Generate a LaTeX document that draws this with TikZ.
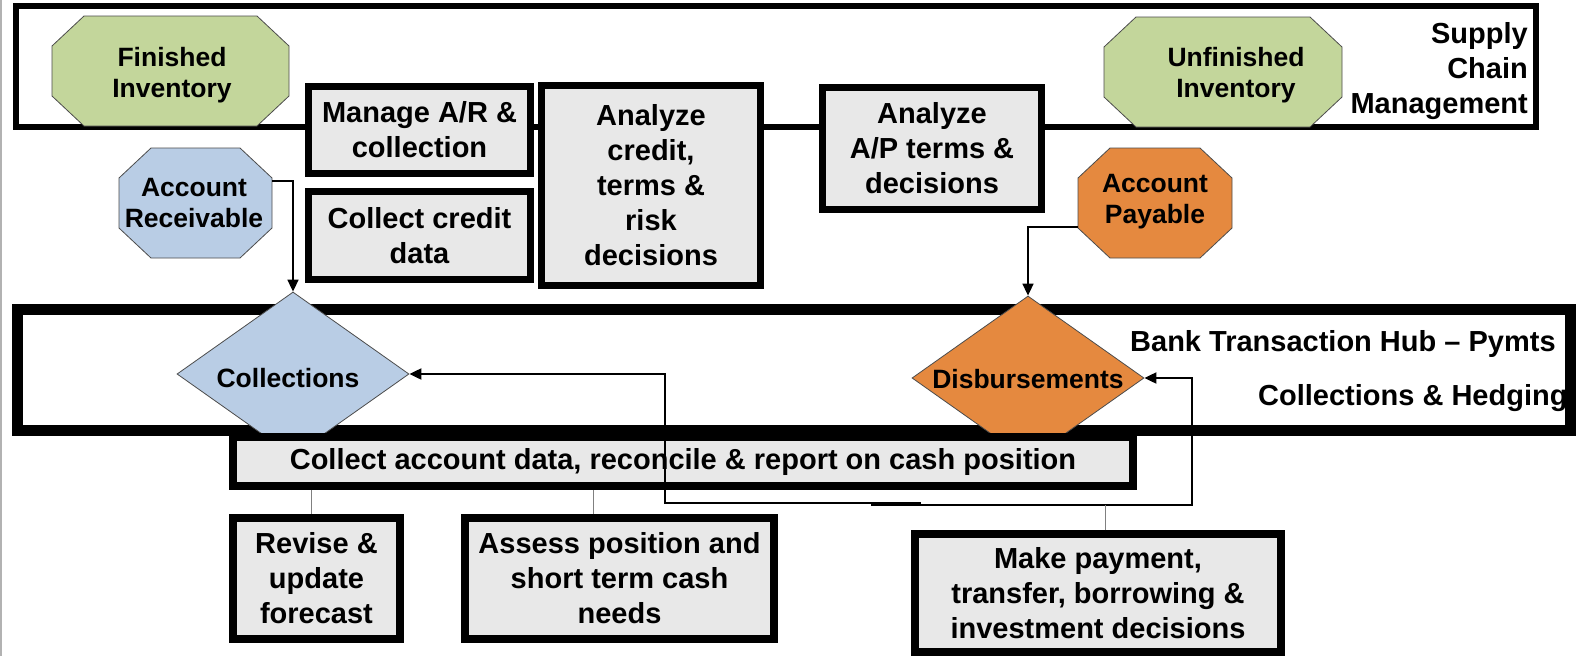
\documentclass[tikz,border=0pt]{standalone}
\usepackage{fontspec}
\setmainfont{Liberation Sans}
\usetikzlibrary{shapes.geometric,arrows.meta,calc}
\definecolor{grn}{HTML}{C3D69B}
\definecolor{blu}{HTML}{B9CDE5}
\definecolor{org}{HTML}{E5893F}
\definecolor{boxg}{HTML}{E8E8E8}
\newcommand{\boxfont}{\fontsize{29}{35}\selectfont\bfseries}
\newcommand{\shpfont}{\fontsize{26.5}{31}\selectfont\bfseries}
% octagon drawn on the frame of a named (invisible) rectangle node
\newcommand{\octshape}[2]{%
  \filldraw[fill=#2, draw=black!70, line width=0.8pt]
    ([xshift=32pt]#1.north west) -- ([xshift=-32pt]#1.north east) --
    ([yshift=-30pt]#1.north east) -- ([yshift=30pt]#1.south east) --
    ([xshift=-32pt]#1.south east) -- ([xshift=32pt]#1.south west) --
    ([yshift=30pt]#1.south west) -- ([yshift=-30pt]#1.north west) -- cycle;}
\tikzset{
  band/.style={draw=black, rectangle, inner sep=0pt},
  pbox/.style={draw=black, fill=boxg, rectangle, line width=7pt, align=center, inner sep=0pt, font=\boxfont},
  octframe/.style={rectangle, inner sep=0pt, outer sep=0pt},
  shptext/.style={align=center, inner sep=0pt, font=\shpfont},
  dia/.style={diamond, aspect=1.41, draw=black!70, line width=0.8pt, inner sep=0pt, minimum width=232pt, minimum height=164pt, font=\shpfont},
  arr/.style={-{Triangle[length=12pt,width=11pt]}, line width=1.6pt, draw=black},
  fb/.style={-{Triangle[length=12pt,width=11pt]}, line width=2pt, draw=black},
  gline/.style={draw=black!50, line width=1pt},
  btxt/.style={font=\boxfont, inner sep=0pt}
}
\begin{document}
\begin{tikzpicture}[x=1pt,y=-1pt]
\useasboundingbox (0,0) rectangle (1577,656);
\fill[white] (0,0) rectangle (1577,656);
\draw[black!30, line width=2pt] (1,0) -- (1,656);
% supply chain band
\node[band, line width=6pt, minimum width=1520pt, minimum height=121pt] (SCM) at (776,66.5) {};
\node[btxt, anchor=east, align=right] (SCMt) at (1528,71) {Supply\\Chain\\Management};
\path node[octframe, minimum width=237pt, minimum height=110pt] (FI) at (170.5,71) {};
\octshape{FI}{grn}
\node[shptext] (FIt) at (172,75) {Finished\\Inventory};
\path node[octframe, minimum width=238pt, minimum height=110pt] (UI) at (1223,72) {};
\octshape{UI}{grn}
\node[shptext] (UIt) at (1236,75) {Unfinished\\Inventory};
% process boxes top
\node[pbox, minimum width=222pt, minimum height=87pt] (MAR) at (419.5,130) {Manage A/R \&\\collection};
\node[pbox, minimum width=222pt, minimum height=88pt] (CCD) at (419.5,235.5) {Collect credit\\data};
\node[pbox, minimum width=219pt, minimum height=200pt] (ACR) at (651,185.5) {Analyze\\credit,\\terms \&\\risk\\decisions};
\node[pbox, minimum width=219pt, minimum height=122pt] (AAP) at (932,148.5) {Analyze\\A/P terms \&\\decisions};
% accounts
\path node[octframe, minimum width=153pt, minimum height=110pt] (AR) at (195.5,203) {};
\octshape{AR}{blu}
\node[shptext] (ARt) at (194,203) {Account\\Receivable};
\path node[octframe, minimum width=154pt, minimum height=110pt] (AP) at (1155,203) {};
\octshape{AP}{org}
\node[shptext] (APt) at (1155,202) {Account\\Payable};
% bank band
\node[btxt, anchor=west] (BT1) at (1130,344) {Bank Transaction Hub -- Pymts};
\node[btxt, anchor=west] (BT2) at (1258,398) {Collections \& Hedging};
\node[band, line width=11pt, minimum width=1553pt, minimum height=121pt] (BTH) at (793.5,369.5) {};
\node[dia, fill=blu] (Coll) at (293,374) {};
\node[shptext] (CollT) at (288,378) {Collections};
\node[dia, fill=org] (Disb) at (1028,378) {};
\node[shptext] (DisbT) at (1028,379) {Disbursements};
\node[pbox, line width=8pt, minimum width=900pt, minimum height=49pt] (CA) at (683,461.5) {Collect account data, reconcile \& report on cash position};
% arrows from accounts
\draw[arr] ([yshift=22pt]AR.east) -| (Coll.north);
\draw[arr] ([yshift=-24pt]AP.west) -| (Disb.north);
% feedback
\coordinate (ja) at (921,503);
\coordinate (jb) at (871,505);
\draw[fb] (ja) -| ($(Coll.east)+(256,0)$) -- (Coll.east);
\draw[fb] (jb) -| ($(Disb.east)+(48,0)$) -- (Disb.east);
% bottom boxes
\node[pbox, line width=8pt, minimum width=167pt, minimum height=121pt] (Rev) at (316.5,578.5) {Revise \&\\update\\forecast};
\node[pbox, line width=8pt, minimum width=309pt, minimum height=121pt] (Ass) at (619.5,578.5) {Assess position and\\short term cash\\needs};
\node[pbox, line width=8pt, minimum width=366pt, minimum height=118pt] (MP) at (1098,593) {Make payment,\\transfer, borrowing \&\\investment decisions};
\draw[gline] ([xshift=-5pt]Rev.north) -- ([xshift=-5pt]Rev.north |- CA.south);
\draw[gline] ([xshift=-26.5pt]Ass.north) -- ([xshift=-26.5pt]Ass.north |- CA.south);
\draw[gline] ([xshift=7pt]MP.north) -- ([xshift=7pt]MP.north |- jb);
\end{tikzpicture}
\end{document}
